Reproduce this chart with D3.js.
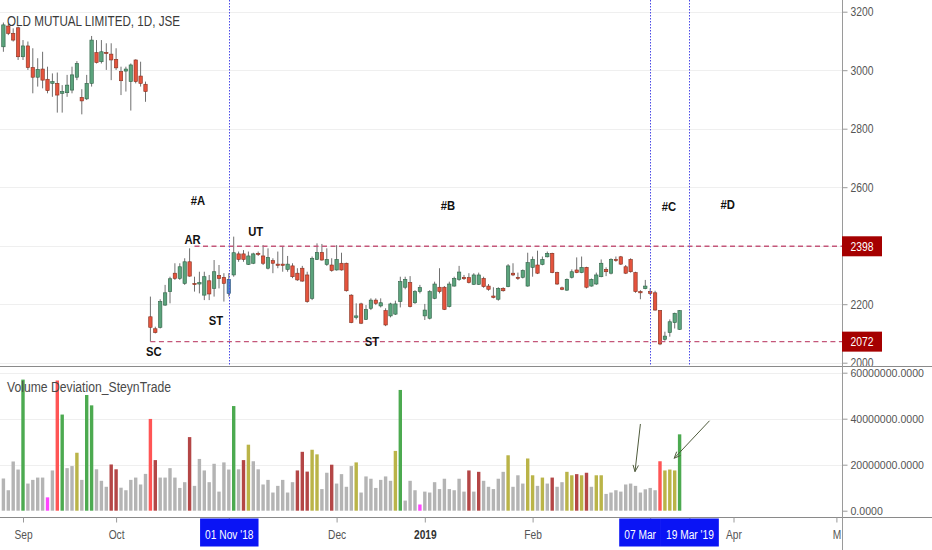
<!DOCTYPE html>
<html><head><meta charset="utf-8">
<script src="https://cdn.jsdelivr.net/npm/d3@7"></script>
<style>body{margin:0;background:#fff} svg{display:block} text{font-family:"Liberation Sans",Arial,sans-serif}</style>
</head><body><svg id="c" width="932" height="550"></svg>
<script>
// ---------- DATA ----------
const opens = [3080,3151,3126,3145,3046,3083,3009,2976,3004,2969,2955,2955,2921,2923,2932,2976,2907,2902,2955,3060,3029,3061,3055,3037,2995,2997,2961,3035,2980,2952,
2157,2116,2121,2197,2243,2306,2288,2271,2345,2271,2269,2231,2280,2254,2298,2292,2237,2300,2372,2372,2336,2340,2374,2365,2323,2349,2337,2337,2319,2331,
2306,2323,2300,2220,2353,2377,2336,2334,2317,2340,2340,2231,2155,2201,2148,2186,2214,2194,2178,2160,2166,2209,2258,2274,2205,2243,2160,2152,2220,2258,
2258,2192,2262,2285,2292,2291,2268,2268,2288,2262,2228,2217,2254,2260,2306,2292,2292,2262,2326,2334,2336,2362,2374,2308,2256,2248,2292,2317,2308,2326,
2262,2269,2294,2319,2306,2353,2362,2328,2353,2308,2243,2253,2243,2239,2178,2080,2103,2137,2114];
const highs = [3163,3158,3143,3149,3103,3098,3075,3041,3063,3012,2989,2992,2949,2984,3012,3031,2935,2984,3117,3103,3103,3092,3092,3075,3012,3012,3023,3037,3029,2961,
2226,2123,2217,2266,2294,2340,2340,2357,2391,2294,2311,2311,2300,2351,2334,2306,2306,2431,2380,2385,2380,2376,2380,2402,2391,2357,2380,2399,2365,2340,
2323,2331,2311,2363,2408,2406,2391,2357,2402,2376,2342,2234,2203,2205,2197,2220,2220,2220,2186,2205,2212,2294,2294,2296,2248,2266,2201,2248,2277,2323,
2262,2277,2294,2331,2300,2306,2306,2308,2294,2269,2258,2258,2258,2337,2340,2308,2319,2376,2363,2383,2363,2380,2376,2311,2260,2288,2319,2360,2363,2328,
2288,2308,2353,2326,2357,2363,2365,2334,2357,2311,2248,2283,2254,2246,2180,2106,2148,2171,2180];
const lows = [3063,3120,3098,3035,3035,3001,2921,2944,2938,2921,2909,2855,2855,2909,2921,2966,2849,2898,2944,3023,3023,3001,2966,3001,2915,2927,2862,2955,2944,2892,
2072,2100,2117,2194,2203,2283,2283,2266,2294,2243,2237,2214,2214,2226,2254,2209,2226,2294,2345,2345,2334,2337,2365,2334,2319,2306,2323,2311,2311,2289,
2280,2277,2205,2214,2351,2349,2331,2311,2315,2315,2243,2135,2148,2132,2146,2180,2197,2189,2125,2155,2163,2189,2251,2189,2201,2237,2146,2148,2217,2237,
2180,2189,2260,2280,2283,2271,2266,2266,2256,2246,2220,2212,2243,2258,2296,2283,2288,2260,2294,2303,2333,2360,2306,2266,2248,2246,2288,2306,2306,2254,
2260,2266,2292,2296,2302,2345,2334,2303,2308,2239,2217,2251,2231,2178,2060,2075,2089,2117,2112];
const closes = [3155,3126,3103,3046,3083,3009,2976,3003,2966,2930,2961,2915,2927,2949,2984,3023,2895,2955,3103,3026,3063,3058,3035,3008,2964,3004,3018,2961,2955,2927,
2121,2103,2209,2239,2287,2288,2328,2345,2296,2268,2274,2294,2235,2311,2288,2271,2285,2376,2353,2353,2365,2372,2371,2340,2360,2340,2333,2334,2337,2294,
2283,2279,2209,2357,2377,2351,2353,2315,2353,2317,2246,2137,2160,2135,2182,2214,2203,2205,2129,2201,2201,2277,2285,2192,2243,2257,2180,2243,2269,2243,
2182,2269,2288,2310,2287,2274,2300,2300,2260,2251,2223,2254,2246,2331,2300,2288,2315,2342,2353,2306,2353,2374,2308,2269,2251,2285,2311,2308,2326,2258,
2285,2300,2340,2311,2353,2349,2337,2306,2311,2243,2239,2262,2237,2180,2064,2091,2140,2169,2178];
// volume in millions of shares
const volumes = [14,8.9,21.4,17.9,57,11.8,13.4,14.4,14.4,5.8,
17.5,56.6,41.8,18.5,19.4,25.2,13.4,50.3,45.8,18,
13,10.4,20.1,18,10,8.9,13.4,14.4,11.4,16,
39.9,22,14.4,14.4,18.5,14.4,9.9,12.4,32,10.8,
22.5,17.5,12.4,20.4,8.3,21,17.9,45.5,18,22,
28.7,21.5,18,11.4,13.4,7.9,10.8,13.4,7.9,12.4,
17.5,25.6,17,26.5,24.5,9.4,16.5,20,11.8,15.9,
10.4,19.4,21,7.9,14.9,13.9,9.9,13.4,14.9,13,
26,52.5,4.4,13,8.9,2.7,8.3,7.9,12.4,9.4,
13.9,9.4,8.9,13.9,8.3,17.5,8.3,16.9,13,10.4,
9.4,13.9,16.9,24.1,10.4,15.4,11.8,22.7,15.4,10.8,
14.4,11.8,14.4,10.4,12.4,16.9,15.4,15.9,15.4,16.5,
10.4,15.4,15.4,7.3,7.9,8.9,8.3,11.4,11.8,10.8,
7.9,9.3,9.9,8.9,21.5,17.5,17.9,17.5,33.2];
// deviation class per bar: n normal, g high-up, r high-down, d down, o up, m very low
const volClass = ("nnnngnnnnm" + "nrgnnonggn" + "nnddnnnnnn" + "rdnnnnnndn" + "nnnnnnngnd" +
  "onnnnnnnnn" + "dddoonndnn" + "nnonnnnnnn" + "ognnnmnnnn" + "nnnnndndnn" +
  "nnnonnnoon" + "ondnnoodod" + "noonnnnnnn" + "nnnnrooog").split("");
const highlightBar = 46;
const priceTicks = [2000,2200,2400,2600,2800,3000,3200];
const volTicks = [0,20,40,60];
const dateTicks = [{t:"Sep",i:4},{t:"Oct",i:23},{t:"01 Nov '18",i:46,hl:true},{t:"Dec",i:68},{t:"2019",i:86,bold:true},
  {t:"Feb",i:108},{t:"07 Mar",i:132,hl:true},{t:"19 Mar '19",i:140,hl:true},{t:"Apr",i:149},{t:"M",i:170}];
const levels = [{v:2398,from:39},{v:2072,from:30}];
const markers = [46,132,140];
const notes = [{t:"#A",i:39.7,p:2556},{t:"#B",i:90.7,p:2539},{t:"#C",i:135.8,p:2534},{t:"#D",i:147.8,p:2540},
  {t:"AR",i:38.6,p:2421},{t:"UT",i:51.5,p:2447},{t:"ST",i:43.4,p:2143},{t:"SC",i:30.7,p:2040},{t:"ST",i:75.2,p:2074}];
const arrows = [{i0:130,v0:37.7,i1:128.9,v1:17},{i0:144.1,v0:39.1,i1:136.9,v1:22.8}];

// ---------- CHART ----------
const svg = d3.select("#c");
const AX = 842, PB = 366, XB = 517;
const x = d3.scaleLinear().domain([0,171]).range([3.4, 3.4+171*4.9]);
const y = d3.scaleLinear().domain([2000,3200]).range([362.7,11.7]);
const yv = d3.scaleLinear().domain([0,60]).range([510.7,372.7]);
const volColor = {n:"#b4b4b4",g:"#4caa50",r:"#ff5555",d:"#b44646",o:"#bab448",m:"#ff45ff"};
const bw = 3.4;
function squeeze(sel,k){ sel.each(function(){ const w=this.getComputedTextLength(); if(w>0){this.setAttribute("textLength",w*k); this.setAttribute("lengthAdjust","spacingAndGlyphs");} }); }

const defs = svg.append("defs");
defs.append("clipPath").attr("id","pc").append("rect").attr("x",0).attr("y",0).attr("width",AX).attr("height",PB);
defs.append("clipPath").attr("id","vc").append("rect").attr("x",0).attr("y",PB).attr("width",AX).attr("height",XB-PB);
defs.append("clipPath").attr("id","pa").append("rect").attr("x",AX).attr("y",0).attr("width",932-AX).attr("height",PB);
defs.append("clipPath").attr("id","xa").append("rect").attr("x",0).attr("y",XB).attr("width",AX).attr("height",550-XB);

// gridlines
svg.append("g").selectAll("line").data(priceTicks).join("line")
  .attr("x1",0).attr("x2",AX).attr("y1",d=>Math.round(y(d))+0.5).attr("y2",d=>Math.round(y(d))+0.5)
  .attr("stroke","#efefef");
svg.append("g").selectAll("line").data(volTicks.slice(1)).join("line")
  .attr("x1",0).attr("x2",AX).attr("y1",d=>Math.round(yv(d))+0.5).attr("y2",d=>Math.round(yv(d))+0.5)
  .attr("stroke","#efefef");

// price pane
const pp = svg.append("g").attr("clip-path","url(#pc)");
const idx = d3.range(opens.length);
pp.append("g").selectAll("line").data(idx).join("line")
  .attr("x1",i=>x(i)).attr("x2",i=>x(i)).attr("y1",i=>y(highs[i])).attr("y2",i=>y(lows[i]))
  .attr("stroke","#707070").attr("stroke-width",1);
pp.append("g").selectAll("rect").data(idx).join("rect")
  .attr("x",i=>x(i)-bw/2).attr("width",bw)
  .attr("y",i=>y(Math.max(opens[i],closes[i])))
  .attr("height",i=>Math.max(1.2,Math.abs(y(opens[i])-y(closes[i]))))
  .attr("fill",i=>i===highlightBar?"#4f86c6":(closes[i]>=opens[i]?"#5ba37c":"#e4533d"))
  .attr("stroke",i=>i===highlightBar?"#2b4f7a":(closes[i]>=opens[i]?"#2f6146":"#83301f"))
  .attr("stroke-width",0.6);

// levels
pp.append("g").selectAll("line").data(levels).join("line")
  .attr("x1",d=>x(d.from)).attr("x2",AX).attr("y1",d=>y(d.v)).attr("y2",d=>y(d.v))
  .attr("stroke","#c4577a").attr("stroke-width",1.4).attr("stroke-dasharray","5,3.5");
// markers
svg.append("g").selectAll("line").data(markers).join("line")
  .attr("x1",i=>Math.round(x(i))+0.5).attr("x2",i=>Math.round(x(i))+0.5).attr("y1",0).attr("y2",PB)
  .attr("stroke","#4b4be6").attr("stroke-width",1).attr("stroke-dasharray","1.5,1.5");

// notes
svg.append("g").selectAll("text").data(notes).join("text")
  .attr("x",d=>x(d.i)).attr("y",d=>y(d.p)).attr("dy","0.36em").attr("text-anchor","middle")
  .attr("font-size",12.5).attr("font-weight","bold").attr("fill","#111").text(d=>d.t)
  .call(squeeze,0.9);

// title
svg.append("text").attr("x",7).attr("y",26).attr("font-size",14).attr("fill","#3a3a3a")
  .text("OLD MUTUAL LIMITED, 1D, JSE").call(s=>s.attr("textLength",173).attr("lengthAdjust","spacingAndGlyphs"));

// volume pane
const vp = svg.append("g").attr("clip-path","url(#vc)");
vp.selectAll("rect").data(idx).join("rect")
  .attr("x",i=>x(i)-bw/2).attr("width",bw)
  .attr("y",i=>yv(volumes[i])).attr("height",i=>yv(0)-yv(volumes[i]))
  .attr("fill",i=>volColor[volClass[i]]);
svg.append("text").attr("x",7).attr("y",391.5).attr("font-size",14).attr("fill","#4a4a4a")
  .text("Volume Deviation_SteynTrade").call(s=>s.attr("textLength",164).attr("lengthAdjust","spacingAndGlyphs"));

// arrows
const ag = svg.append("g").attr("stroke","#4f5b3c").attr("stroke-width",1).attr("fill","none");
arrows.forEach(a=>{
  const x0=x(a.i0),y0=yv(a.v0),x1=x(a.i1),y1=yv(a.v1);
  const ang=Math.atan2(y1-y0,x1-x0), L=7, sp=0.4;
  ag.append("line").attr("x1",x0).attr("y1",y0).attr("x2",x1).attr("y2",y1);
  ag.append("path").attr("d",`M${x1-L*Math.cos(ang-sp)},${y1-L*Math.sin(ang-sp)}L${x1},${y1}L${x1-L*Math.cos(ang+sp)},${y1-L*Math.sin(ang+sp)}`);
});

// frame lines
svg.append("line").attr("x1",0).attr("x2",932).attr("y1",PB+0.5).attr("y2",PB+0.5).attr("stroke","#8a8a8a");
svg.append("line").attr("x1",0).attr("x2",932).attr("y1",XB+0.5).attr("y2",XB+0.5).attr("stroke","#8a8a8a");
svg.append("line").attr("x1",AX+0.5).attr("x2",AX+0.5).attr("y1",0).attr("y2",550).attr("stroke","#9a9a9a");

// price axis (clipped at pane bottom)
const pa = svg.append("g").attr("clip-path","url(#pa)").append("g").attr("transform",`translate(${AX+0.5},0)`)
  .call(d3.axisRight(y).tickValues(priceTicks).tickSize(5).tickPadding(3).tickFormat(d3.format("d")));
pa.select(".domain").remove();
pa.selectAll("line").attr("stroke","#9a9a9a");
pa.selectAll("text").attr("font-size",12).attr("fill","#555").attr("font-family",null).call(squeeze,0.86);
// level labels
const lb = svg.append("g");
levels.forEach(l=>{
  lb.append("rect").attr("x",AX).attr("y",y(l.v)-10).attr("width",40).attr("height",20).attr("fill","#a50000");
  lb.append("text").attr("x",AX+20).attr("y",y(l.v)).attr("dy","0.36em").attr("text-anchor","middle")
    .attr("font-size",12).attr("fill","#fff").text(l.v).call(squeeze,0.86);
});

// volume axis
const va = svg.append("g").attr("transform",`translate(${AX+0.5},0)`)
  .call(d3.axisRight(yv).tickValues(volTicks).tickSize(5).tickPadding(3).tickFormat(d=>(d*1e6).toFixed(4)));
va.select(".domain").remove();
va.selectAll("line").attr("stroke","#9a9a9a");
va.selectAll("text").attr("font-size",11).attr("fill","#555").attr("font-family",null).call(squeeze,0.96);

// date axis (clipped at price axis)
const xa = svg.append("g").attr("clip-path","url(#xa)").append("g").attr("transform",`translate(0,${XB+0.5})`)
  .call(d3.axisBottom(x).tickValues(dateTicks.map(d=>d.i)).tickSize(5).tickFormat((d,k)=>dateTicks[k].t));
xa.select(".domain").remove();
xa.selectAll("line").attr("stroke","#9a9a9a");
const xt = xa.selectAll(".tick text").attr("font-size",12).attr("fill","#555").attr("font-family",null)
  .attr("y",0).attr("dy",21);
xt.filter((d,k)=>dateTicks[k].bold).attr("font-weight","bold").attr("fill","#333");
xt.call(squeeze,0.85);
// highlighted labels with boxes (shift left to avoid overlap with following box)
const hl = [];
xa.selectAll(".tick").each(function(d,k){ if(dateTicks[k].hl){ const t=d3.select(this).select("text"); hl.push({g:d3.select(this),t,w:+t.attr("textLength")+10,cx:x(d),x0:x(d)}); }});
for(let k=hl.length-2;k>=0;k--){ const n=hl[k+1]; const right=n.cx-n.w/2; if(hl[k].cx+hl[k].w/2>right) hl[k].cx=right-hl[k].w/2; }
hl.forEach(h=>{
  const off=h.cx-h.x0;
  h.g.insert("rect","text").attr("x",off-h.w/2).attr("y",1).attr("width",h.w).attr("height",28).attr("fill","#0a14f5");
  h.t.attr("x",off).attr("fill","#fff");
});
</script></body></html>
